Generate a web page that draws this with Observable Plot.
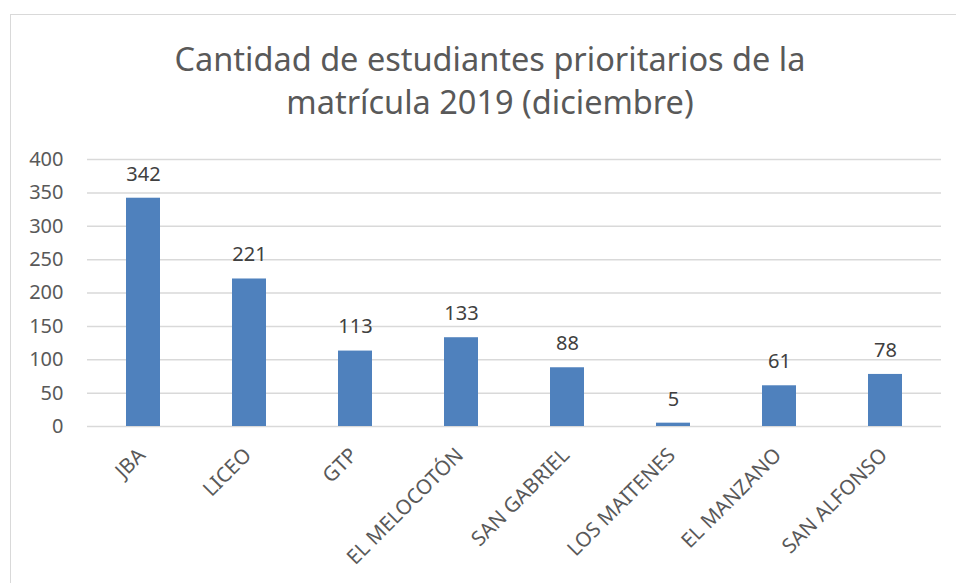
<!DOCTYPE html>
<html>
<head>
<meta charset="utf-8">
<script src="https://cdn.jsdelivr.net/npm/d3@7"></script>
<script src="https://cdn.jsdelivr.net/npm/@observablehq/plot@0.6"></script>
<style>
  body { margin: 0; background: #fff; }
  #wrap { position: relative; width: 956px; height: 583px; overflow: hidden; font-family: "Noto Sans", "Open Sans", sans-serif; }
  #frame { position: absolute; left: 10px; top: 14px; width: 960px; height: 600px; border: 1.5px solid #d9d9d9; box-sizing: border-box; }
  #title { position: absolute; left: 0; top: 37px; width: 980px; text-align: center; color: #595959; font-size: 32.5px; line-height: 43px; }
  #chart { position: absolute; left: 0; top: 140px; }
</style>
</head>
<body>
<div id="wrap">
  <div id="frame"></div>
  <div id="title">Cantidad de estudiantes prioritarios de la<br>matrícula 2019 (diciembre)</div>
  <div id="chart"></div>
</div>
<script>
const schools = ["JBA", "LICEO", "GTP", "EL MELOCOTÓN", "SAN GABRIEL", "LOS MAITENES", "EL MANZANO", "SAN ALFONSO"];
const students = [342, 221, 113, 133, 88, 5, 61, 78];
const yTicks = [0, 50, 100, 150, 200, 250, 300, 350, 400];

const data = schools.map((s, i) => ({school: s, value: students[i]}));

const plot = Plot.plot({
  width: 956,
  height: 443,
  marginTop: 19,
  marginBottom: 157,
  marginLeft: 87,
  marginRight: 15,
  style: {fontFamily: "'Noto Sans', 'Open Sans', sans-serif", background: "transparent"},
  x: {domain: schools, paddingInner: 0.68, paddingOuter: 0.34, axis: null},
  y: {domain: [0, 400], axis: null},
  marks: [
    Plot.ruleY(yTicks, {stroke: "#d9d9d9", strokeWidth: 1.5}),
    Plot.axisY({ticks: yTicks, tickSize: 0, tickPadding: 24, fontSize: 20, fill: "#595959", label: null}),
    Plot.barY(data, {x: "school", y: "value", fill: "#4f81bd"}),
    Plot.text(data, {x: "school", y: "value", text: d => String(d.value), dy: -24, fontSize: 20, fill: "#404040"}),
    Plot.text(data, {x: "school", frameAnchor: "bottom", text: "school", rotate: -45, textAnchor: "end", dx: 3, dy: 30, fontSize: 20.5, fill: "#595959"})
  ]
});
document.getElementById("chart").appendChild(plot);
</script>
</body>
</html>
